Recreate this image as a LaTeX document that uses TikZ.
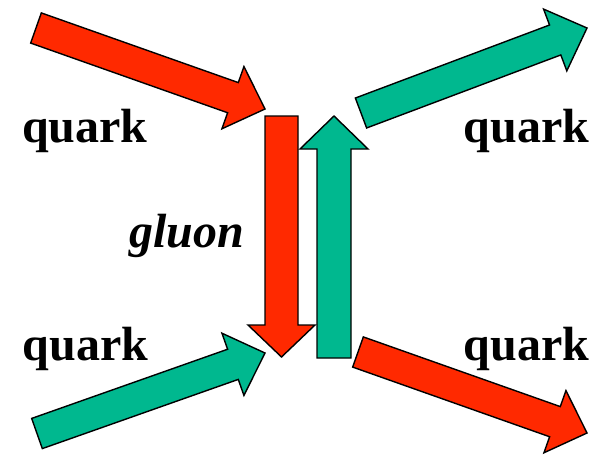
\documentclass[tikz,border=0pt]{standalone}
\usepackage{fontspec}
\setmainfont{Liberation Serif}
\usetikzlibrary{calc}
\definecolor{qred}{RGB}{255,41,0}
\definecolor{qgreen}{RGB}{0,184,143}
\newcommand{\blockarr}[6]{%
  \coordinate (ba-c) at ($(#3)!#6!(#2)$);
  \draw[#1] ($(#2)!#4!90:(#3)$) -- ($(ba-c)!#4!90:(#3)$) -- ($(ba-c)!#5!90:(#3)$) -- (#3)
    -- ($(ba-c)!#5!-90:(#3)$) -- ($(ba-c)!#4!-90:(#3)$) -- ($(#2)!#4!-90:(#3)$) -- cycle;}
\tikzset{
  redarr/.style={fill=qred,draw=black,line width=1.4pt,line join=miter},
  greenarr/.style={fill=qgreen,draw=black,line width=1.4pt,line join=miter},
  qlabel/.style={anchor=base,inner sep=0pt,font=\fontsize{48}{52}\selectfont\bfseries},
  glabel/.style={anchor=base,inner sep=0pt,font=\fontsize{48}{52}\selectfont\bfseries\itshape}
}
\begin{document}
\begin{tikzpicture}[x=1pt,y=-1pt]
\useasboundingbox (0,0) rectangle (601,455);
% coordinates of arrow tails and tips
\coordinate (tlT) at (36,28);   \coordinate (tlH) at (265,109);
\coordinate (trT) at (361,113); \coordinate (trH) at (587,28);
\coordinate (blT) at (37,433.5);\coordinate (blH) at (265,353);
\coordinate (brT) at (358,352); \coordinate (brH) at (587,433);
\coordinate (gdT) at (281.5,116); \coordinate (gdH) at (281.5,357);
\coordinate (guT) at (334,358); \coordinate (guH) at (334,116);
\blockarr{redarr}{tlT}{tlH}{16pt}{33pt}{34pt}
\blockarr{greenarr}{trT}{trH}{16pt}{33pt}{34pt}
\blockarr{greenarr}{blT}{blH}{16pt}{33pt}{34pt}
\blockarr{redarr}{brT}{brH}{16pt}{33pt}{34pt}
\blockarr{redarr}{gdT}{gdH}{16.5pt}{33.5pt}{32pt}
\blockarr{greenarr}{guT}{guH}{17pt}{34pt}{33pt}
\node[qlabel] (q1) at (85,142) {quark};
\node[qlabel] (q2) at (526.5,142) {quark};
\node[qlabel] (q3) at (85.5,360) {quark};
\node[qlabel] (q4) at (526.5,360) {quark};
\node[glabel] (gl) at (186.5,247) {gluon};
\end{tikzpicture}
\end{document}
